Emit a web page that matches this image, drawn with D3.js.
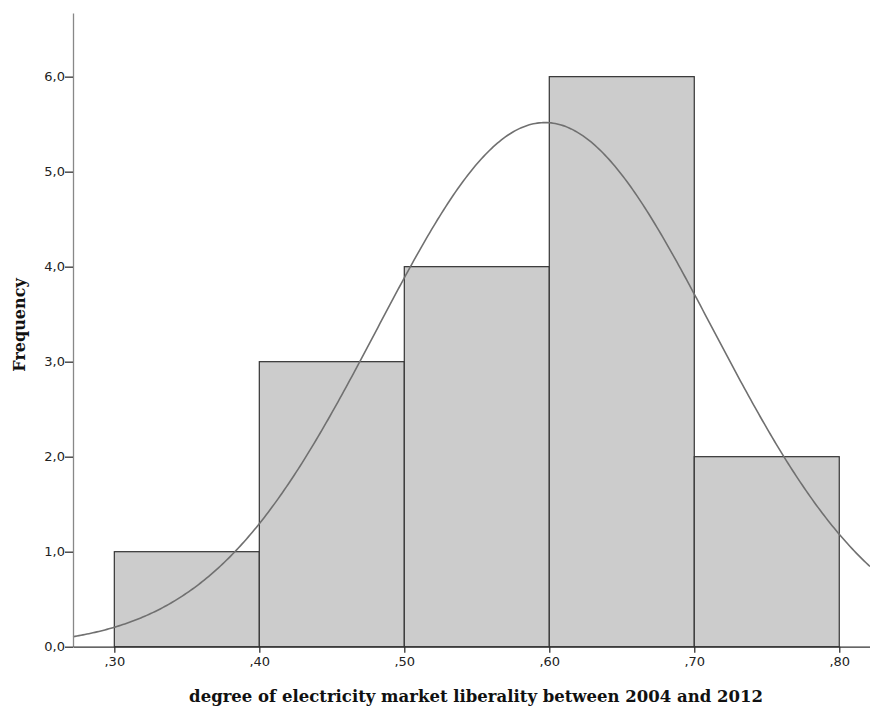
<!DOCTYPE html>
<html>
<head>
<meta charset="utf-8">
<script src="https://cdn.jsdelivr.net/npm/d3@7"></script>
<style>
  body { margin: 0; background: #fff; }
  svg { display: block; }
</style>
</head>
<body>
<svg width="870" height="710"></svg>
<script>
// histogram bins (lower edge) and counts
const binStarts = [0.30, 0.40, 0.50, 0.60, 0.70];
const binWidth = 0.10;
const counts = [1, 3, 4, 6, 2];
const xTicks = [0.30, 0.40, 0.50, 0.60, 0.70, 0.80];
const yTicks = [0, 1, 2, 3, 4, 5, 6];
// fitted normal curve
const mean = 0.597;
const sd = 0.1157;
const xDomain = [0.2715, 0.8212];
const yDomain = [0, 6.67];

const svg = d3.select("svg");
const plotL = 73, plotR = 870, plotT = 13, plotB = 646.7;

const x = d3.scaleLinear().domain(xDomain).range([plotL, plotR]);
const y = d3.scaleLinear().domain(yDomain).range([plotB, plotT]);

const fmtY = d => d3.format(".1f")(d).replace(".", ",");
const fmtX = d => d3.format(".2f")(d).replace("0.", ",");

// bars
svg.append("g").selectAll("rect")
  .data(binStarts)
  .join("rect")
  .attr("x", d => x(d))
  .attr("y", (d, i) => y(counts[i]))
  .attr("width", d => x(d + binWidth) - x(d))
  .attr("height", (d, i) => y(0) - y(counts[i]))
  .attr("fill", "#cccccc")
  .attr("stroke", "#333")
  .attr("stroke-width", 1.2);

// normal curve
const total = d3.sum(counts);
const pts = d3.range(0, 401).map(i => {
  const v = xDomain[0] + (xDomain[1] - xDomain[0]) * i / 400;
  const z = (v - mean) / sd;
  return [v, total * binWidth / (sd * Math.sqrt(2 * Math.PI)) * Math.exp(-0.5 * z * z)];
});
svg.append("path")
  .datum(pts)
  .attr("fill", "none")
  .attr("stroke", "#707070")
  .attr("stroke-width", 1.6)
  .attr("d", d3.line().x(d => x(d[0])).y(d => y(d[1])));

// y axis
const yAxis = svg.append("g")
  .attr("transform", `translate(${plotL},0)`)
  .call(d3.axisLeft(y).tickValues(yTicks).tickFormat(fmtY).tickSize(8).tickSizeOuter(0));
yAxis.select(".domain").attr("stroke", "#888").attr("stroke-width", 1.3);
yAxis.selectAll(".tick line").attr("stroke", "#333").attr("stroke-width", 1.3);
yAxis.selectAll("text")
  .attr("font-family", "DejaVu Sans")
  .attr("font-size", 13)
  .attr("fill", "#222")
  .attr("x", -8);

// x axis
const xAxis = svg.append("g")
  .attr("transform", `translate(0,${plotB})`)
  .call(d3.axisBottom(x).tickValues(xTicks).tickFormat(fmtX).tickSize(6).tickSizeOuter(0));
xAxis.select(".domain").attr("stroke", "#333").attr("stroke-width", 1.3);
xAxis.selectAll(".tick line").attr("stroke", "#333").attr("stroke-width", 1.3);
xAxis.selectAll("text")
  .attr("font-family", "DejaVu Sans")
  .attr("font-size", 13)
  .attr("fill", "#222")
  .attr("y", 10);

// titles
svg.append("text")
  .attr("x", 476)
  .attr("y", 702)
  .attr("text-anchor", "middle")
  .attr("font-family", "DejaVu Serif")
  .attr("font-weight", "bold")
  .attr("font-size", 16.5)
  .attr("fill", "#111")
  .text("degree of electricity market liberality between 2004 and 2012");

svg.append("text")
  .attr("transform", "translate(25,325) rotate(-90)")
  .attr("text-anchor", "middle")
  .attr("font-family", "DejaVu Serif")
  .attr("font-weight", "bold")
  .attr("font-size", 16)
  .attr("fill", "#111")
  .text("Frequency");
</script>
</body>
</html>
